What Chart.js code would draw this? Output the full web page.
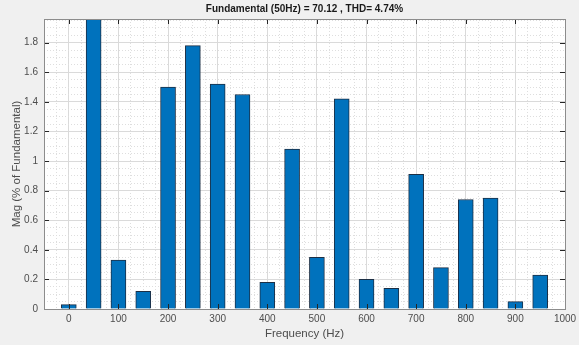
<!DOCTYPE html>
<html>
<head>
<meta charset="utf-8">
<script src="https://cdn.jsdelivr.net/npm/chart.js@4/dist/chart.umd.min.js"></script>
<style>
  html, body { margin:0; padding:0; background:#f0f0f0; }
  #wrap { width:579px; height:345px; }
</style>
</head>
<body>
<div id="wrap"><canvas id="c"></canvas></div>
<script>
  // harmonic frequencies (Hz) and magnitudes (% of fundamental)
  const freqs = [0,50,100,150,200,250,300,350,400,450,500,550,600,650,700,750,800,850,900,950];
  const mags  = [0.03,100,0.33,0.12,1.50,1.78,1.52,1.45,0.18,1.08,0.35,1.42,0.20,0.14,0.91,0.28,0.74,0.75,0.05,0.23];

  const xTicks = [0,100,200,300,400,500,600,700,800,900,1000];
  const yTicks = [0,0.2,0.4,0.6,0.8,1,1.2,1.4,1.6,1.8];
  const xMinorStep = 25;
  const yMinorStep = 0.05;
  const xMin = -50, xMax = 1000, yMin = 0, yMax = 1.96;

  const isMajor = (v, list) => list.some(t => Math.abs(t - v) < 1e-6);
  const major = (c, list) => !!(c.tick && isMajor(c.tick.value, list));

  function minorTicks(min, max, step){
    const out = [];
    for (let v = Math.ceil(min/step)*step; v <= max + 1e-9; v += step) out.push(+v.toFixed(4));
    return out;
  }

  // white plot box, inward tick marks, box outline like MATLAB axes
  const boxTicks = {
    id:"boxTicks",
    beforeDraw(chart){
      const {ctx, chartArea:a} = chart;
      ctx.save();
      ctx.fillStyle = "#ffffff";
      ctx.fillRect(a.left, a.top, a.right - a.left, a.bottom - a.top);
      ctx.restore();
    },
    afterDatasetsDraw(chart){
      const {ctx, chartArea:a, scales:{x, y}} = chart;
      ctx.save();
      ctx.strokeStyle = "#262626";
      ctx.lineWidth = 1;
      ctx.beginPath();
      for (const t of xTicks){
        const px = Math.round(x.getPixelForValue(t)) + 0.5;
        ctx.moveTo(px, a.bottom); ctx.lineTo(px, a.bottom - 5);
        ctx.moveTo(px, a.top); ctx.lineTo(px, a.top + 5);
      }
      for (const t of yTicks){
        const py = Math.round(y.getPixelForValue(t)) + 0.5;
        ctx.moveTo(a.left, py); ctx.lineTo(a.left + 5, py);
        ctx.moveTo(a.right, py); ctx.lineTo(a.right - 5, py);
      }
      ctx.stroke();
      ctx.strokeStyle = "#8c8c8c";
      ctx.strokeRect(Math.round(a.left) + 0.5, Math.round(a.top) + 0.5,
                     Math.round(a.right - a.left), Math.round(a.bottom - a.top));
      ctx.restore();
    }
  };

  const font = { family:"'Liberation Sans', Arial, sans-serif", size:10 };
  const labelFont = { family:font.family, size:11.5 };

  new Chart(document.getElementById("c"), {
    type:"bar",
    data:{
      datasets:[{
        data: freqs.map((f, i) => ({ x:f, y:mags[i] })),
        backgroundColor:"#0072BD",
        borderColor:"#1c2f45",
        borderWidth:1,
        barThickness:15
      }]
    },
    options:{
      responsive:true,
      maintainAspectRatio:false,
      animation:false,
      layout:{ padding:{ left:10, right:14, top:0, bottom:4 } },
      plugins:{
        legend:{ display:false },
        tooltip:{ enabled:false },
        title:{
          display:true,
          fullSize:false,
          text:"Fundamental (50Hz) = 70.12 , THD= 4.74%",
          color:"#1a1a1a",
          font:{ family:font.family, size:10, weight:"bold" },
          padding:{ top:3, bottom:4 }
        }
      },
      scales:{
        x:{
          type:"linear",
          offset:false,
          min:xMin, max:xMax,
          afterBuildTicks: s => { s.ticks = minorTicks(xMin, xMax, xMinorStep).map(v => ({ value:v })); },
          afterFit: s => { s.height = 32; s.paddingLeft = 0; s.paddingRight = 0; },
          ticks:{
            autoSkip:false, maxRotation:0, padding:4,
            color:"#4d4d4d", font,
            callback: v => isMajor(v, xTicks) ? String(v) : ""
          },
          grid:{ offset:false, drawTicks:false, color: c => major(c, xTicks) ? "#dadada" : "#dedede" },
          border:{ display:false, dash: c => major(c, xTicks) ? [] : [1, 2] },
          title:{ display:true, text:"Frequency (Hz)", color:"#4d4d4d", font:labelFont, padding:{ top:1, bottom:0 } }
        },
        y:{
          min:yMin, max:yMax,
          afterBuildTicks: s => { s.ticks = minorTicks(yMin, yMax, yMinorStep).map(v => ({ value:v })); },
          afterFit: s => { s.width = 34; s.paddingTop = 0; s.paddingBottom = 0; },
          ticks:{
            autoSkip:false, padding:6,
            color:"#4d4d4d", font,
            callback: v => isMajor(v, yTicks) ? String(+v.toFixed(1)) : ""
          },
          grid:{ drawTicks:false, color: c => major(c, yTicks) ? "#dadada" : "#dedede" },
          border:{ display:false, dash: c => major(c, yTicks) ? [] : [1, 2] },
          title:{ display:true, text:"Mag (% of Fundamental)", color:"#4d4d4d", font:labelFont, padding:{ top:0, bottom:0 } }
        }
      }
    },
    plugins:[boxTicks]
  });
</script>
</body>
</html>
